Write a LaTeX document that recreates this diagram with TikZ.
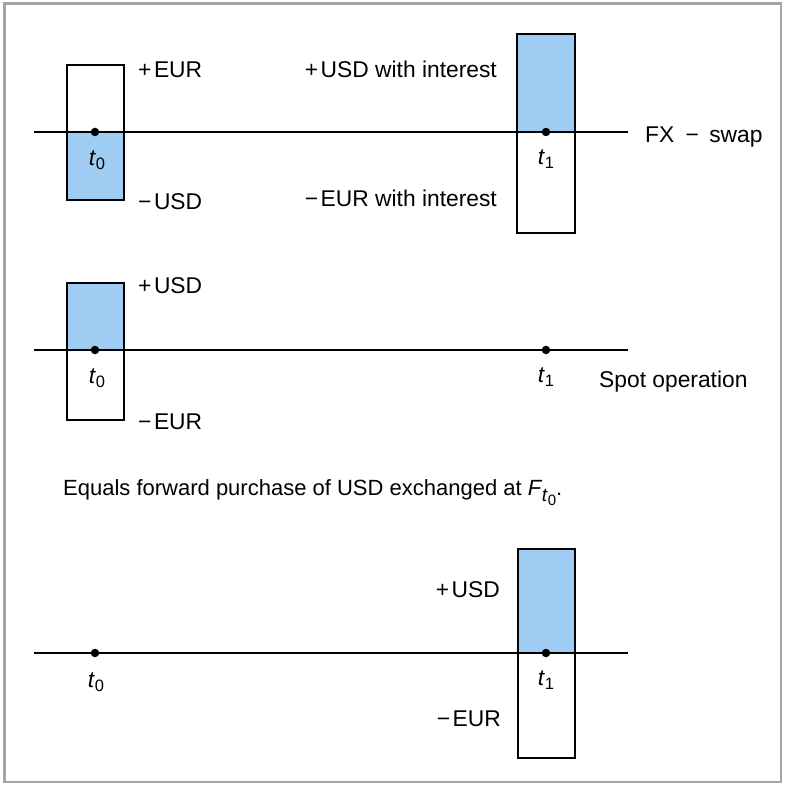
\documentclass[tikz,border=0pt]{standalone}
\usepackage{fontspec}
\setmainfont{Liberation Sans}
\definecolor{framegray}{RGB}{165,165,165}
\definecolor{cashblue}{RGB}{158,204,242}
\newcommand{\tsub}[1]{\textit{t}\raisebox{-0.35ex}{\fontsize{16.5}{18}\selectfont #1}}
\newcommand{\pl}{+\kern2.5pt}
\newcommand{\mi}{−\kern2.5pt}
\begin{document}
\begin{tikzpicture}[x=1pt,y=-1pt,
  font=\fontsize{22.8}{26}\selectfont,
  box/.style={draw=black, line width=1.6pt},
  axisline/.style={line width=1.4pt},
  dotnode/.style={circle, fill=black, inner sep=0pt, minimum size=8.5pt},
  lbl/.style={inner sep=0pt, text height=16.3pt, text depth=0pt},
  tlbl/.style={inner sep=0pt}]
\useasboundingbox (0,0) rectangle (789,786);
\draw[framegray, line width=2.5pt] (4.5,3.5) rectangle (781,782);

% ---------- Row 1: FX swap ----------
\fill[cashblue] (67,132) rectangle (124,200);
\draw[box] (67,65) rectangle (124,200);
\fill[cashblue] (517,34) rectangle (575,132);
\draw[box] (517,34) rectangle (575,233);
\coordinate (a0s) at (34,132);
\coordinate (a0e) at (628,132);
\draw[axisline] (a0s) -- (a0e);
\node[dotnode] (d10) at (95,132) {};
\node[dotnode] (d11) at (546,132) {};
\node[tlbl] (t10) at (97,160) {\tsub{0}};
\node[tlbl] (t11) at (546,159) {\tsub{1}};
\node[lbl, anchor=west] (eurp) at (138,69) {\pl EUR};
\node[lbl, anchor=west] (usdm) at (138,201) {\mi USD};
\node[lbl, anchor=east] (usdi) at (497,69) {\pl USD with interest};
\node[lbl, anchor=east] (euri) at (497,198) {\mi EUR with interest};
\node[lbl, anchor=west] (fx) at (645,134) {FX\hspace{0.5em}−\hspace{0.45em}swap};

% ---------- Row 2: Spot operation ----------
\fill[cashblue] (67,283) rectangle (124,350);
\draw[box] (67,283) rectangle (124,420);
\coordinate (a1s) at (34,350);
\coordinate (a1e) at (628,350);
\draw[axisline] (a1s) -- (a1e);
\node[dotnode] (d20) at (95,350) {};
\node[dotnode] (d21) at (546,350) {};
\node[tlbl] (t20) at (97,378) {\tsub{0}};
\node[tlbl] (t21) at (546,377) {\tsub{1}};
\node[lbl, anchor=west] (usdp2) at (138,285) {\pl USD};
\node[lbl, anchor=west] (eurm2) at (138,421) {\mi EUR};
\node[lbl, anchor=west] (spot) at (599,379) {Spot operation};

% ---------- Text ----------
\node[anchor=base west, inner sep=0pt, font=\fontsize{22}{26}\selectfont] (eq) at (63,495)
  {Equals forward purchase of USD exchanged at \textit{F}\kern-0.5pt\raisebox{-0.55ex}{\fontsize{19}{20}\selectfont\textit{t}\raisebox{-0.45ex}{\fontsize{15}{16}\selectfont 0}}.};

% ---------- Row 3: forward ----------
\fill[cashblue] (518,549) rectangle (575,653);
\draw[box] (518,549) rectangle (575,758);
\coordinate (a2s) at (34,653);
\coordinate (a2e) at (628,653);
\draw[axisline] (a2s) -- (a2e);
\node[dotnode] (d30) at (95,653) {};
\node[dotnode] (d31) at (546,653) {};
\node[tlbl] (t30) at (96,682) {\tsub{0}};
\node[tlbl] (t31) at (546,680) {\tsub{1}};
\node[lbl, anchor=east] (usdp3) at (500,589) {\pl USD};
\node[lbl, anchor=east] (eurm3) at (501,718) {\mi EUR};
\end{tikzpicture}
\end{document}
